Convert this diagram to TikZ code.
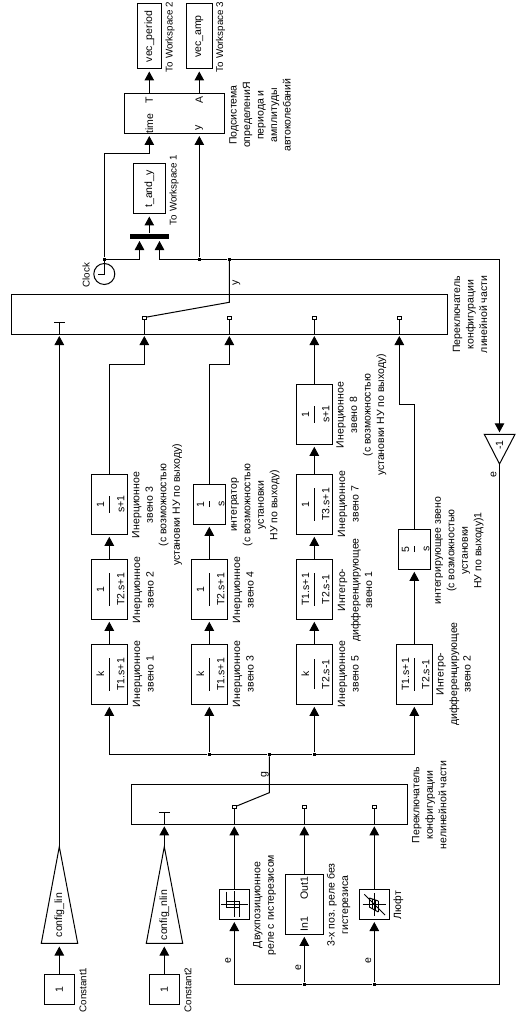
\documentclass[tikz,border=0pt]{standalone}
\usepackage{fontspec}
\setmainfont{Liberation Sans}
\usetikzlibrary{arrows.meta}
\newcommand{\frc}[2]{\rotatebox{90}{$\displaystyle\frac{\mbox{\rule[-1pt]{0pt}{11pt}#1}}{\mbox{\rule{0pt}{14pt}#2}}$}}
\newcommand{\rtx}[1]{\rotatebox{90}{#1}}

\begin{document}
\begin{tikzpicture}[
    x=1pt, y=-1pt,
    every path/.style={line width=1pt},
    blk/.style={draw,rectangle,inner sep=0pt,font=\fontsize{10.5}{13}\selectfont},
    lbl/.style={rotate=90,align=center,inner sep=0pt,font=\fontsize{10.5}{13.5}\selectfont},
    lat/.style={rotate=90,inner sep=0pt,font=\fontsize{9.8}{12}\selectfont},
    arr/.style={-{Triangle[width=9.5pt,length=9pt]},shorten >=2pt},
    jun/.style={fill,rectangle,inner sep=0pt,minimum size=3pt},
    con/.style={draw,fill=white,rectangle,inner sep=0pt,minimum width=4pt,minimum height=3pt,line width=0.8pt}
]
    \path [use as bounding box,fill=white] (0,0) rectangle (525,1016);

    % workspace outputs and measuring subsystem
    \node [blk,minimum width=24.5pt,minimum height=65pt] (wsp) at (149.3,36.5) {\rtx{vec\_period}};
    \node [blk,minimum width=26pt,minimum height=65pt] (wsa) at (199.3,36.5) {\rtx{vec\_amp}};
    \node [blk,minimum width=100pt,minimum height=40pt] (meas) at (174.5,114) {};
    \node [blk,minimum width=32pt,minimum height=50pt] (wst) at (149.3,189) {\rtx{t\_and\_y}};
    \node [fill,rectangle,inner sep=0pt,minimum width=39pt,minimum height=5pt] (mux) at (149.3,236.5) {};
    \node [draw,circle,inner sep=0pt,minimum size=21pt] (clk) at (104.3,274) {};

    \node [lat] (tw2) at (170,37) {To Workspace 2};
    \node [lat] (tw3) at (220.7,37) {To Workspace 3};
    \node [lat] (tw1) at (174,190) {To Workspace 1};
    \node [lbl] (lmeas) at (260,115) {Подсистема\\определениЯ\\периода и\\амплитуды\\автоколебаний};
    \node [lat] (lclk) at (86,275) {Clock};
    \node [lbl] (mt) at (149.3,124) {time};
    \node [lbl] (mT) at (149.3,100) {T};
    \node [lbl] (mA) at (199.3,100) {A};
    \node [lbl] (my) at (199.3,128) {y};
    \node [lbl] (ly) at (236.5,283) {y};

    % linear part switch
    \node [blk,minimum width=435.5pt,minimum height=39.5pt] (swl) at (229.25,314.25) {};
    \node [con] (cl1) at (144.3,317.5) {};
    \node [con] (cl2) at (229.3,317.5) {};
    \node [con] (cl3) at (314.3,317.5) {};
    \node [con] (cl4) at (399.3,317.5) {};
    \coordinate (pl0) at (59.3,334);
    \coordinate (pl1) at (144.3,334);
    \coordinate (pl2) at (229.3,334);
    \coordinate (pl3) at (314.3,334);
    \coordinate (pl4) at (399.3,334);
    \coordinate (tl) at (59.3,322);
    \coordinate (sl) at (229.3,302.3);
    \node [lbl] (lswl) at (470,314.5) {Переключатель\\конфигурации\\линейной части};

    % first chain
    \node [blk,minimum width=35.5pt,minimum height=60pt] (a1) at (109.3,674.3) {\frc{k}{T1.s+1}};
    \node [blk,minimum width=35.5pt,minimum height=60pt] (a2) at (109.3,589.3) {\frc{1}{T2.s+1}};
    \node [blk,minimum width=35.5pt,minimum height=60pt] (a3) at (109.3,504.3) {\frc{1}{s+1}};
    \node [lbl] (la1) at (143.3,674) {Инерционное\\звено 1};
    \node [lbl] (la2) at (143.3,590) {Инерционное\\звено 2};
    \node [lbl] (la3) at (157,505) {Инерционное\\звено 3\\(с возможностью\\установки НУ по выходу)};

    % second chain
    \node [blk,minimum width=35.5pt,minimum height=60pt] (b1) at (209.3,674.3) {\frc{k}{T1.s+1}};
    \node [blk,minimum width=35.5pt,minimum height=60pt] (b2) at (209.3,589.3) {\frc{1}{T2.s+1}};
    \node [blk,minimum width=32pt,minimum height=40pt] (b3) at (209.3,504.3) {\frc{1}{s}};
    \node [lbl] (lb1) at (243.3,674) {Инерционное\\звено 3};
    \node [lbl] (lb2) at (243.3,590) {Инерционное\\звено 4};
    \node [lbl] (lb3) at (255.5,505) {интегратор\\(с возможностью\\установки\\НУ по выходу)};

    % third chain
    \node [blk,minimum width=35.5pt,minimum height=60pt] (c1) at (314.3,674.3) {\frc{k}{T2.s-1}};
    \node [blk,minimum width=35.5pt,minimum height=60pt] (c2) at (314.3,589.3) {\frc{T1.s+1}{T2.s-1}};
    \node [blk,minimum width=35.5pt,minimum height=60pt] (c3) at (314.3,504.3) {\frc{1}{T3.s+1}};
    \node [blk,minimum width=35.5pt,minimum height=60pt] (c4) at (314.3,414.3) {\frc{1}{s+1}};
    \node [lbl] (lc1) at (348.3,674) {Инерционное\\звено 5};
    \node [lbl] (lc2) at (355,590) {Интегро-\\дифференцирующее\\звено 1};
    \node [lbl] (lc3) at (348.3,504) {Инерционное\\звено 7};
    \node [lbl] (lc4) at (361.3,415) {Инерционное\\звено 8\\(с возможностью\\установки НУ по выходу)};

    % fourth chain
    \node [blk,minimum width=36pt,minimum height=60pt] (d1) at (414.3,674.3) {\frc{T1.s+1}{T2.s-1}};
    \node [blk,minimum width=32pt,minimum height=40pt] (d2) at (414.3,549.3) {\frc{5}{s}};
    \node [lbl] (ld1) at (453.5,674) {Интегро-\\дифференцирующее\\звено 2};
    \node [lbl] (ld2) at (459.5,550.5) {интегрирующее звено\\(с возможностью\\установки\\НУ по выходу)1};

    % feedback gain
    \coordinate (ga) at (499.5,464);
    \coordinate (gl) at (484.3,434.3);
    \coordinate (gr) at (515,434.3);
    \draw (gl) -- (gr) -- (ga) -- cycle;
    \node [lbl] (gv) at (499.5,445) {-1};
    \node [lbl] (le0) at (493.5,475) {e};

    % nonlinear part switch
    \node [blk,minimum width=276pt,minimum height=40pt] (swn) at (269.3,804.3) {};
    \node [con] (cn1) at (234.3,807) {};
    \node [con] (cn2) at (304.3,807) {};
    \node [con] (cn3) at (374.3,807) {};
    \coordinate (pn0) at (164.3,824.3);
    \coordinate (pn1) at (234.3,824.3);
    \coordinate (pn2) at (304.3,824.3);
    \coordinate (pn3) at (374.3,824.3);
    \coordinate (tn) at (164.3,812.3);
    \coordinate (sn) at (269.3,792.7);
    \node [lbl] (lswn) at (429.3,805) {Переключатель\\конфигурации\\нелинейной части};
    \node [lbl] (lg) at (265,775) {g};

    % nonlinear elements
    \node [blk,minimum size=30.4pt] (rel) at (234.3,904.3) {};
    \node [blk,minimum width=37.6pt,minimum height=60pt] (pos) at (304.3,904.3) {};
    \node [blk,minimum size=30.4pt] (bkl) at (374.3,904.3) {};
    \node [lbl] (in1) at (304.3,924) {In1};
    \node [lbl] (out1) at (304.3,888) {Out1};
    \node [lbl] (lrel) at (264.5,905) {Двухпозиционное\\реле с гистерезисом};
    \node [lbl] (lpos) at (338.5,905) {3-х поз. реле без\\гистерезиса};
    \node [lbl] (lbkl) at (398.3,905) {Люфт};
    \node [lbl] (le1) at (228,961) {e};
    \node [lbl] (le2) at (298.3,968) {e};
    \node [lbl] (le3) at (368.3,961) {e};

    % relay and backlash marks
    \draw (221,904) -- (248,904);
    \draw (234.3,891) -- (234.3,917);
    \draw (226.3,891.7) -- (226.3,907.7) -- (239.3,907.7) -- (239.3,901) -- (226.3,901);
    \draw (239.3,901) -- (239.3,916.7);
    \draw (362.7,904) -- (386,904);
    \draw (374.3,893) -- (374.3,916);
    \draw (364.3,894.3) -- (385,915);
    \foreach \xr/\ya/\yb in {369.3/898/907,372.3/899/909,375.3/900/910,378.3/901/912}
        \draw (\xr,\ya) -- (\xr,\yb);
    \draw (369.3,898) -- (378.3,901);
    \draw (369.3,907) -- (378.3,912);

    % configuration constants
    \coordinate (fa) at (59.3,846.7);
    \coordinate (fl) at (41.3,943.3);
    \coordinate (fr) at (77.7,943.3);
    \coordinate (fb) at (59.3,944.5);
    \coordinate (ha) at (164.3,846.7);
    \coordinate (hl) at (146.3,943.3);
    \coordinate (hr) at (182.7,943.3);
    \coordinate (hb) at (164.3,944.5);
    \draw (fl) -- (fr) -- (fa) -- cycle;
    \draw (hl) -- (hr) -- (ha) -- cycle;
    \node [lbl] (lfv) at (59.3,915) {config\_lin};
    \node [lbl] (lhv) at (164.3,915) {config\_nlin};
    \node [blk,minimum size=30pt] (k1) at (59.3,989.3) {\rtx{1}};
    \node [blk,minimum size=30pt] (k2) at (164.3,989.3) {\rtx{1}};
    \node [lat] (lk1) at (83,990) {Constant1};
    \node [lat] (lk2) at (188,990) {Constant2};

    % junctions
    \node [jun] (j0) at (104.3,259) {};
    \node [jun] (jy) at (199.3,259) {};
    \node [jun] (jo) at (229.3,259) {};
    \node [jun] (g1) at (209.3,754.3) {};
    \node [jun] (g2) at (269.3,754.3) {};
    \node [jun] (g3) at (314.3,754.3) {};
    \node [jun] (e2) at (304.3,984.3) {};
    \node [jun] (e3) at (374.3,984.3) {};

    % wires of the upper part
    \draw [arr] (meas.north -| wsp) -- (wsp.south);
    \draw [arr] (meas.north -| wsa) -- (wsa.south);
    \draw [arr] (j0) |- (149.3,154) -- (149.3,134);
    \draw [arr] (j0) -| (139.5,239);
    \draw [arr] (jo) -| (159.5,239);
    \draw [arr] (jy) -- (199.3,134);
    \draw [arr] (mux.north) -- (wst.south);
    \draw (j0) -- (clk.north);
    \draw (clk.north) -- (clk.center) -- (97.7,274);
    \draw [arr] (jo) -| (499.5,434.3);
    \draw (jo) -- (sl) -- (cl1);

    % contacts of the switches
    \draw (cl1) -- (pl1);
    \draw (cl2) -- (pl2);
    \draw (cl3) -- (pl3);
    \draw (cl4) -- (pl4);
    \draw (pl0) -- (tl);
    \draw (54,322) -- (64.6,322);
    \draw (cn1) -- (pn1);
    \draw (cn2) -- (pn2);
    \draw (cn3) -- (pn3);
    \draw (pn0) -- (tn);
    \draw (158.9,812.3) -- (169.7,812.3);

    % chains into the linear switch
    \draw [arr] (a1) -- (a2);
    \draw [arr] (a2) -- (a3);
    \draw [arr] (a3.north) |- (144.3,364.5) -- (pl1);
    \draw [arr] (b1) -- (b2);
    \draw [arr] (b2) -- (b3);
    \draw [arr] (b3.north) |- (229.3,364.5) -- (pl2);
    \draw [arr] (c1) -- (c2);
    \draw [arr] (c2) -- (c3);
    \draw [arr] (c3) -- (c4);
    \draw [arr] (c4) -- (pl3);
    \draw [arr] (d1) -- (d2);
    \draw [arr] (d2.north) |- (399.3,404.3) -- (pl4);

    % bus from the nonlinear switch
    \draw [arr] (g1) -| (a1.south);
    \draw [arr] (g1) -- (b1.south);
    \draw (g1) -- (g2) -- (g3);
    \draw [arr] (g3) -- (c1.south);
    \draw [arr] (g3) -| (d1.south);
    \draw (g2) -- (sn) -- (cn1);

    % nonlinear part inputs
    \draw [arr] (rel.north) -- (pn1);
    \draw [arr] (pos.north) -- (pn2);
    \draw [arr] (bkl.north) -- (pn3);
    \draw (ga) |- (e3);
    \draw (e3) -- (e2);
    \draw [arr] (e2) -| (rel.south);
    \draw [arr] (e2) -- (pos.south);
    \draw [arr] (e3) -- (bkl.south);

    % configuration inputs
    \draw [arr] (k1.north) -- (fb);
    \draw [arr] (k2.north) -- (hb);
    \draw [arr] (fa) -- (pl0);
    \draw [arr] (ha) -- (pn0);
\end{tikzpicture}
\end{document}
